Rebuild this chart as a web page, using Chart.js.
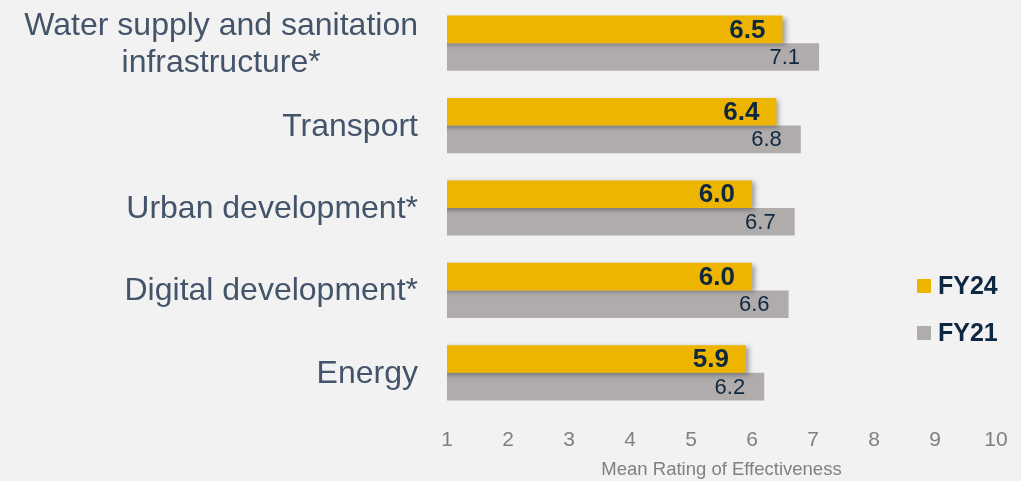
<!DOCTYPE html>
<html>
<head>
<meta charset="utf-8">
<script src="https://cdn.jsdelivr.net/npm/chart.js@4.4.1/dist/chart.umd.min.js"></script>
<style>
  html, body { margin: 0; padding: 0; background: #f2f2f2; }
  #wrap { width: 1021px; height: 481px; }
</style>
</head>
<body>
<div id="wrap"><canvas id="ratings"></canvas></div>
<script>
const categories = [
  ['Water supply and sanitation', 'infrastructure*'],
  'Transport',
  'Urban development*',
  'Digital development*',
  'Energy'
];
const fy24 = [6.5, 6.4, 6.0, 6.0, 5.9];
const fy21 = [7.1, 6.8, 6.7, 6.6, 6.2];
const xTicks = [1, 2, 3, 4, 5, 6, 7, 8, 9, 10];

const colorGold = '#eeb500';
const colorGray = '#b0acab';
const navy = '#0e2841';
const font = '"Liberation Sans", Arial, sans-serif';

// category labels (multi-line ones centred), value labels, shadow on FY24, legend
const barLabels = {
  id: 'barLabels',
  beforeDatasetDraw(chart, args) {
    const ctx = chart.ctx;
    ctx.save();
    if (args.index === 0) {
      ctx.shadowColor = 'rgba(0,0,0,0.35)';
      ctx.shadowBlur = 5;
      ctx.shadowOffsetX = 3;
      ctx.shadowOffsetY = 2;
    }
  },
  afterDatasetDraw(chart) {
    chart.ctx.restore();
  },
  afterDatasetsDraw(chart) {
    const ctx = chart.ctx;
    const yScale = chart.scales.y;
    ctx.save();

    // category names
    ctx.textBaseline = 'alphabetic';
    ctx.font = '32px ' + font;
    ctx.fillStyle = '#44546a';
    const right = chart.chartArea.left - 29;
    const lh = 37;
    chart.data.labels.forEach((lab, i) => {
      const y = yScale.getPixelForTick(i) + 10;
      if (Array.isArray(lab)) {
        const w = Math.max(...lab.map(t => ctx.measureText(t).width));
        ctx.textAlign = 'center';
        lab.forEach((t, k) => {
          ctx.fillText(t, right - w / 2, y + (k - (lab.length - 1) / 2) * lh);
        });
      } else {
        ctx.textAlign = 'right';
        ctx.fillText(lab, right, y);
      }
    });

    // values
    ctx.textBaseline = 'middle';
    ctx.textAlign = 'right';
    chart.data.datasets.forEach((ds, i) => {
      const meta = chart.getDatasetMeta(i);
      ctx.font = (i === 0 ? 'bold 26px ' : '22px ') + font;
      ctx.fillStyle = navy;
      meta.data.forEach((bar, j) => {
        ctx.fillText(ds.data[j].toFixed(1), bar.x - (i === 0 ? 17 : 19), bar.y + 1);
      });
    });
    ctx.restore();
  },
  afterDraw(chart) {
    const ctx = chart.ctx;
    ctx.save();
    ctx.font = 'bold 25px ' + font;
    ctx.textBaseline = 'middle';
    const items = [['FY24', colorGold, 286], ['FY21', colorGray, 333]];
    items.forEach(([txt, col, y]) => {
      ctx.fillStyle = col;
      ctx.fillRect(917, y - 7, 14, 14);
      ctx.fillStyle = navy;
      ctx.fillText(txt, 938, y + 1);
    });
    ctx.restore();
  }
};

new Chart(document.getElementById('ratings'), {
  type: 'bar',
  data: {
    labels: categories,
    datasets: [
      { label: 'FY24', data: fy24, backgroundColor: colorGold },
      { label: 'FY21', data: fy21, backgroundColor: colorGray }
    ]
  },
  options: {
    indexAxis: 'y',
    responsive: true,
    maintainAspectRatio: false,
    animation: false,
    layout: { padding: { top: 2, right: 25, left: 0, bottom: 0 } },
    datasets: { bar: { barPercentage: 1, categoryPercentage: 0.67 } },
    plugins: { legend: { display: false }, tooltip: { enabled: false } },
    scales: {
      x: {
        min: 1,
        max: 10,
        afterBuildTicks: (s) => { s.ticks = xTicks.map(v => ({ value: v })); },
        afterFit: (s) => { s.height = 67; s.paddingLeft = 0; s.paddingRight = 0; },
        grid: { display: false, drawTicks: false },
        border: { display: false },
        ticks: { color: '#808080', font: { family: font, size: 21 }, padding: 14 },
        title: {
          display: true,
          text: 'Mean Rating of Effectiveness',
          color: '#808080',
          font: { family: font, size: 18.5 },
          padding: { top: 0, bottom: 0 }
        }
      },
      y: {
        afterFit: (s) => { s.width = 447; s.paddingTop = 0; s.paddingBottom = 0; },
        grid: { display: false, drawTicks: false },
        border: { display: false },
        ticks: { display: false }
      }
    }
  },
  plugins: [barLabels]
});
</script>
</body>
</html>
